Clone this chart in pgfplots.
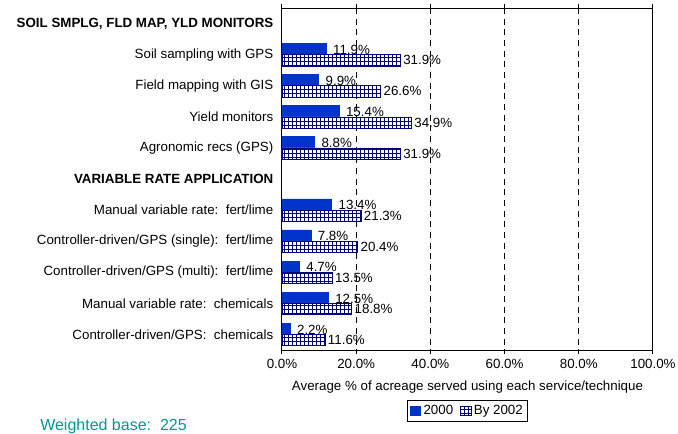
\documentclass[border=0pt]{standalone}
\usepackage{fontspec}
\setmainfont{Liberation Sans}
\usepackage{pgfplots}
\pgfplotsset{compat=1.18}
\usetikzlibrary{patterns}

\definecolor{bluesolid}{RGB}{0,51,204}
\definecolor{navyline}{RGB}{0,0,128}
\definecolor{tealnote}{RGB}{0,150,150}

\begin{document}
\begin{tikzpicture}[x=1pt,y=1pt]
% page = 678x433 px at 0.75pt/px; axis box lower-left at origin
\useasboundingbox (-211.5,-62.25) rectangle (297,262.5);
\begin{axis}[
  at={(0,0)}, anchor=south west,
  scale only axis,
  width=278.25pt, height=256.5pt,
  font=\fontsize{10}{12}\selectfont,
  /pgf/number format/assume math mode=true,
  xbar,
  y dir=reverse,
  xmin=0, xmax=100,
  ymin=-0.5, ymax=10.5,
  xtick={0,20,40,60,80,100},
  xticklabel={\pgfmathprintnumber[fixed,fixed zerofill,precision=1]{\tick}\%},
  tick align=outside,
  major tick length=3pt,
  ytick={0,...,10},
  yticklabels={
    {\textbf{SOIL SMPLG, FLD MAP, YLD MONITORS}},
    Soil sampling with GPS,
    Field mapping with GIS,
    Yield monitors,
    Agronomic recs (GPS),
    {\textbf{VARIABLE RATE APPLICATION}},
    {Manual variable rate:\ \ fert/lime},
    {Controller-driven/GPS (single):\ \ fert/lime},
    {Controller-driven/GPS (multi):\ \ fert/lime},
    {Manual variable rate:\ \ chemicals},
    {Controller-driven/GPS:\ \ chemicals}},
  ytick style={draw=none},
  xmajorgrids,
  grid style={black, line width=0.75pt, dash pattern=on 4.5pt off 3.5pt},
  axis line style={black, line width=0.75pt},
  xtick style={black, line width=0.75pt},
  xlabel={Average \% of acreage served using each service/technique},
  xlabel style={at={(axis description cs:0.5,-0.108)}, anchor=center},
  bar width=0.36,
  nodes near coords={\pgfmathprintnumber[fixed,fixed zerofill,precision=1]{\pgfplotspointmeta}\%},
  point meta=explicit,
  every node near coord/.append style={font=\fontsize{10}{12}\selectfont, anchor=west, inner sep=2pt},
  legend columns=2,
  legend style={at={(axis description cs:0.5,-0.178)}, anchor=center,
    draw=black, line width=0.5pt, inner sep=1.5pt,
    font=\fontsize{10}{12}\selectfont,
    /tikz/every even column/.append style={column sep=3pt}},
  legend image code/.code={\draw[#1, line width=0.5pt] (0pt,-3.5pt) rectangle (8pt,3.5pt);},
]
\addplot[bar shift=-0.18, fill=bluesolid, draw=bluesolid,
  every node near coord/.append style={xshift=3pt, yshift=-0.5pt}] coordinates {
  (11.9,1) [11.9]
  (9.9,2)  [9.9]
  (15.4,3) [15.4]
  (8.8,4)  [8.8]
  (13.4,6) [13.4]
  (7.8,7)  [7.8]
  (4.7,8)  [4.7]
  (12.5,9) [12.5]
  (2.2,10) [2.2]
};
\addlegendentry{2000}
\addplot[bar shift=0.18, fill=white, draw=navyline,
  postaction={pattern=grid, pattern color=navyline}] coordinates {
  (31.9,1) [31.9]
  (26.6,2) [26.6]
  (34.9,3) [34.9]
  (31.9,4) [31.9]
  (21.3,6) [21.3]
  (20.4,7) [20.4]
  (13.5,8) [13.5]
  (18.8,9) [18.8]
  (11.6,10) [11.6]
};
\addlegendentry{By 2002}
\end{axis}
\node[anchor=base west, inner sep=0pt, text=tealnote, font=\fontsize{12}{14}\selectfont]
  at (-181.5,-60.5) {Weighted base:\ \ 225};
\end{tikzpicture}
\end{document}
